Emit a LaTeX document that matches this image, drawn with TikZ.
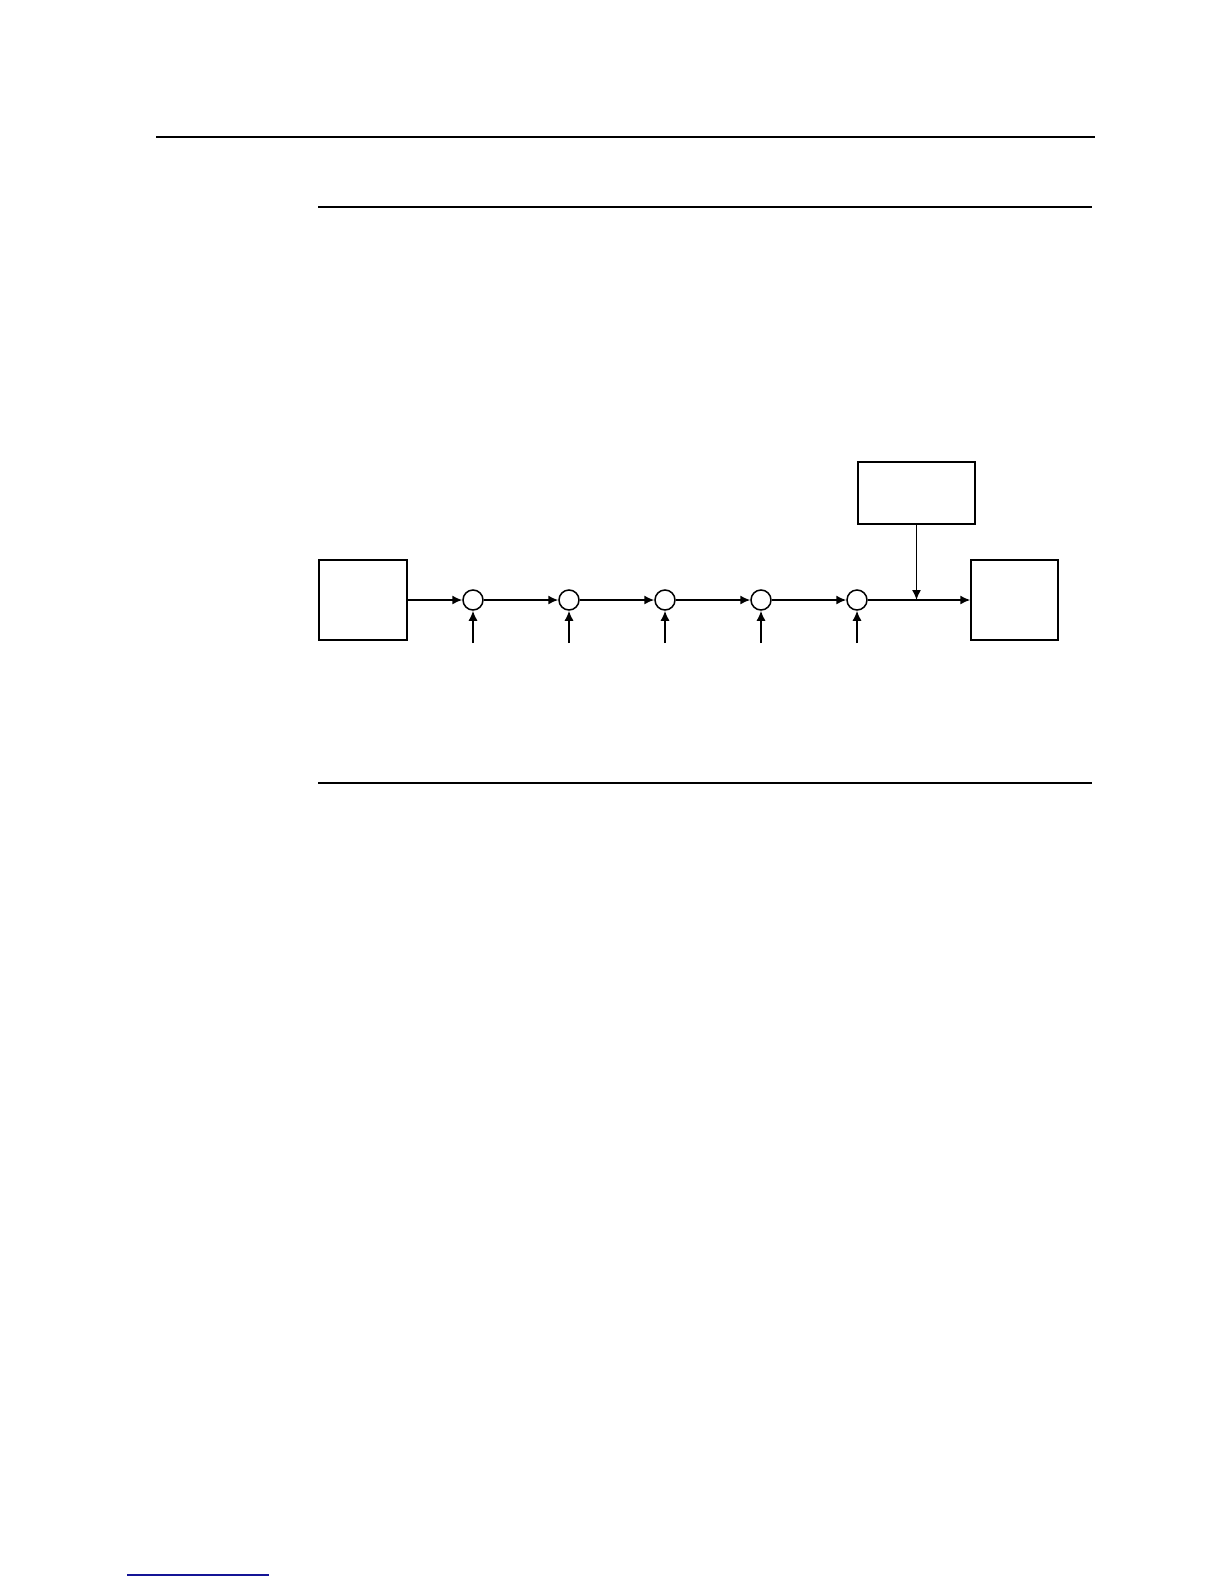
\documentclass[tikz,border=0pt]{standalone}
\usepackage{amsmath}
\usepackage{xcolor}
\usetikzlibrary{arrows.meta}
\definecolor{linkblue}{RGB}{20,20,150}

\begin{document}
\begin{tikzpicture}[x=0.5bp,y=-0.5bp,
    blk/.style={draw,line width=0.75bp,minimum width=44bp,minimum height=40bp,inner sep=0pt},
    sum/.style={draw,circle,line width=0.75bp,minimum size=10bp,inner sep=0pt},
    rule/.style={line width=0.7bp}]
    \useasboundingbox (0,0) rectangle (1224,1584);

    % page rules
    \draw[rule] (156,137) -- (1095,137);
    \draw[rule] (318,207) -- (1092,207);
    \draw[rule] (318,783) -- (1092,783);
    \draw[linkblue,line width=1bp] (127,1575) -- (269,1575);

    \node[blk] (src) at (363,600) {};
    \node[blk,minimum width=43.5bp] (dst) at (1014.5,600) {};
    \node[blk,minimum width=58.5bp,minimum height=31bp] (ctl) at (916.5,493) {};
    \foreach \i/\x in {1/473,2/569,3/665,4/761,5/857} {
      \node[sum] (s\i) at (\x,600) {};
      \coordinate (in\i) at (\x,643);
    }
    \coordinate (j) at (ctl.south |- s5);

    \path[->,>={Latex[length=5bp,width=4.5bp]},line width=0.75bp]
    (src) edge (s1)
    (s1) edge (s2)
    (s2) edge (s3)
    (s3) edge (s4)
    (s4) edge (s5)
    (s5) edge (dst)
    (ctl) edge (j)
    (in1) edge (s1)
    (in2) edge (s2)
    (in3) edge (s3)
    (in4) edge (s4)
    (in5) edge (s5);
\end{tikzpicture}
\end{document}
